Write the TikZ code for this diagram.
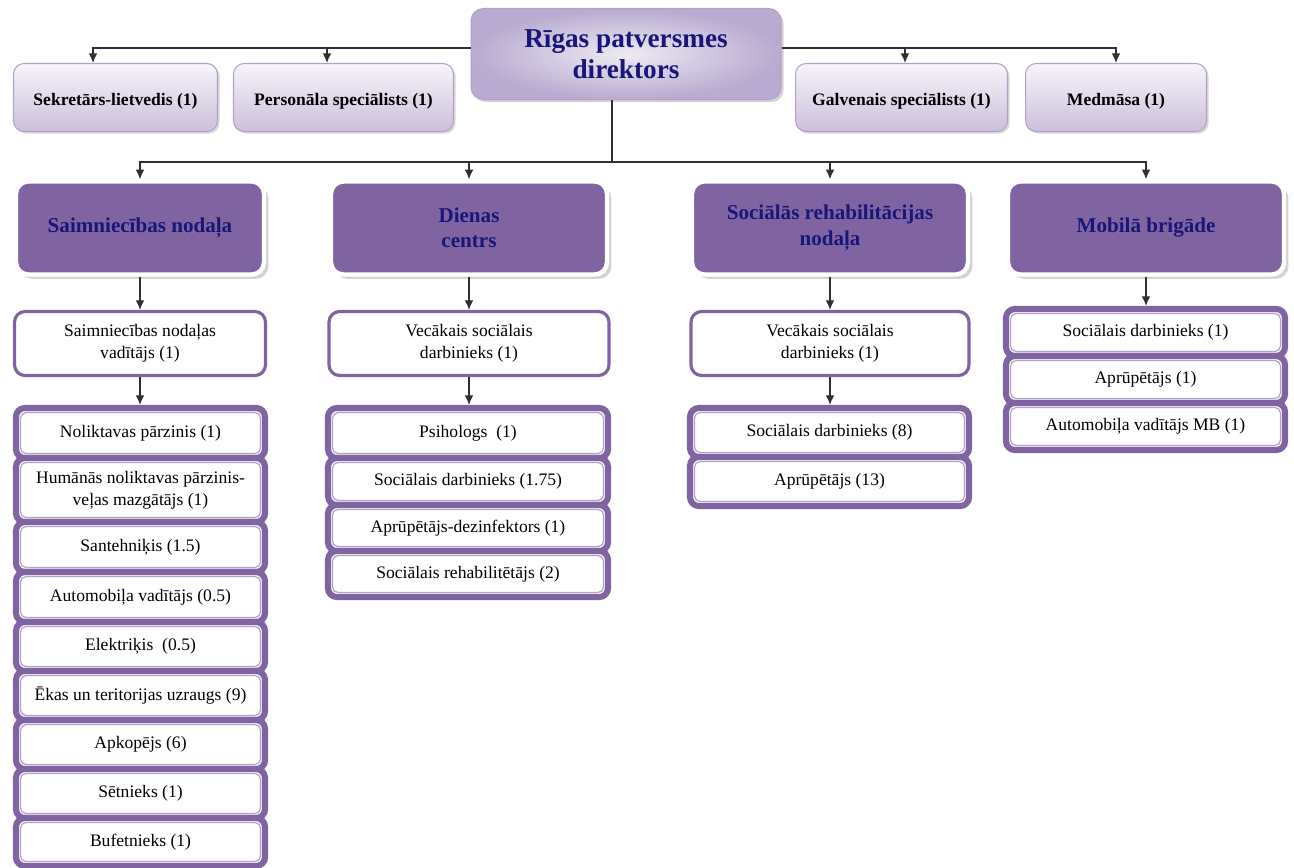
\documentclass[tikz,border=0pt]{standalone}
\usepackage{fontspec}
\setmainfont{Liberation Serif}
\usetikzlibrary{shadows,arrows.meta}

\definecolor{pur}{HTML}{8064A2}
\definecolor{lav}{HTML}{B3A2C7}
\definecolor{lavlt}{HTML}{F7F5FA}
\definecolor{lavdk}{HTML}{CBBFDA}
\definecolor{dirin}{HTML}{EEEAF4}
\definecolor{dirout}{HTML}{B8AAD0}
\definecolor{navy}{RGB}{24,22,120}
\definecolor{lnk}{HTML}{303030}

\tikzset{
  dirbox/.style={rounded corners=7pt, draw=lav, line width=0.6pt, inner color=dirin, outer color=dirout,
    text=navy, font=\fontsize{15.5}{17.5}\selectfont\bfseries, align=center,
    drop shadow={opacity=0.35, shadow xshift=1.5pt, shadow yshift=-1.5pt}},
  topbox/.style={rounded corners=6pt, draw=lav, line width=0.6pt, top color=lavlt, bottom color=lavdk,
    font=\fontsize{10}{12}\selectfont\bfseries, text depth=0pt, text height=9pt, inner ysep=1pt,
    drop shadow={opacity=0.3, shadow xshift=1.2pt, shadow yshift=-1.2pt}},
  hdrbox/.style={rounded corners=7pt, fill=pur, draw=white, line width=2.5pt, text=navy,
    font=\fontsize{12}{14.5}\selectfont\bfseries, align=center,
    drop shadow={opacity=0.35, shadow xshift=2.5pt, shadow yshift=-2.5pt}},
  leadbox/.style={rounded corners=6pt, fill=white, draw=pur, line width=1.8pt, align=center,
    font=\fontsize{10}{12.5}\selectfont},
  itembox/.style={rounded corners=5pt, fill=white, draw=pur, line width=3.5pt, align=center,
    font=\fontsize{10}{12.5}\selectfont,
    path picture={\draw[lav, line width=0.7pt, rounded corners=3pt]
      ([shift={(2.6pt,2.6pt)}]path picture bounding box.south west) rectangle
      ([shift={(-2.6pt,-2.6pt)}]path picture bounding box.north east);}},
  arr/.style={-{Latex[length=5.5pt,width=5pt]}, lnk, line width=0.8pt}
}

\begin{document}
\begin{tikzpicture}[x=0.02cm, y=-0.02cm]
  \useasboundingbox (0,0) rectangle (1294,867);

  % director and staff
  \node[dirbox, minimum width=6.2cm, minimum height=1.82cm] (dir) at (626,54) {Rīgas patversmes\\direktors};
  \node[topbox, minimum width=4.08cm, minimum height=1.36cm] (sekr) at (115.5,97.5) {Sekretārs-lietvedis (1)};
  \node[topbox, minimum width=4.4cm, minimum height=1.36cm] (pers) at (343.5,97.5) {Personāla speciālists (1)};
  \node[topbox, minimum width=4.24cm, minimum height=1.36cm] (galv) at (901.5,97.5) {Galvenais speciālists (1)};
  \node[topbox, minimum width=3.62cm, minimum height=1.36cm] (med) at (1116,97.5) {Medmāsa (1)};

  \draw[arr] ([yshift=0.12cm]dir.west) -| ([xshift=-0.45cm]sekr.north);
  \draw[arr] ([yshift=0.12cm]dir.west) -| ([xshift=-0.33cm]pers.north);
  \draw[arr] ([yshift=0.12cm]dir.east) -| ([xshift=0.07cm]galv.north);
  \draw[arr] ([yshift=0.12cm]dir.east) -| (med.north);

  % departments
  \node[hdrbox, minimum width=4.96cm, minimum height=1.86cm] (saim) at (140,228) {Saimniecības nodaļa};
  \node[hdrbox, minimum width=5.52cm, minimum height=1.86cm] (dien) at (469,228) {Dienas\\centrs};
  \node[hdrbox, minimum width=5.52cm, minimum height=1.86cm] (soc) at (830,228) {Sociālās rehabilitācijas\\nodaļa};
  \node[hdrbox, minimum width=5.52cm, minimum height=1.86cm] (mob) at (1146,228) {Mobilā brigāde};

  \coordinate (split) at (612,162);
  \draw[lnk, line width=0.8pt] (dir.south -| split) -- (split);
  \foreach \d in {saim,dien,soc,mob}
    \draw[arr] (split) -| (\d.north);

  % heads of departments
  \node[leadbox, minimum width=5.02cm, minimum height=1.28cm] (saimV) at (140,343.5) {Saimniecības nodaļas\\vadītājs (1)};
  \node[leadbox, minimum width=5.6cm, minimum height=1.28cm] (dienV) at (469,343.5) {Vecākais sociālais\\darbinieks (1)};
  \node[leadbox, minimum width=5.56cm, minimum height=1.28cm] (socV) at (830,343.5) {Vecākais sociālais\\darbinieks (1)};
  \draw[arr] (saim) -- (saimV);
  \draw[arr] (dien) -- (dienV);
  \draw[arr] (soc) -- (socV);

  % staff lists
  \foreach \nm/\txt/\yc/\hh in {s1/Noliktavas pārzinis (1)/433/1.0, s2/Humānās noliktavas pārzinis-\\veļas mazgātājs (1)/490/1.28,
      s3/Santehniķis (1.5)/547/1.0, s4/Automobiļa vadītājs (0.5)/597/1.0, s5/Elektriķis\ \ (0.5)/646.5/0.98,
      s6/Ēkas un teritorijas uzraugs (9)/695.5/0.98, s7/Apkopējs (6)/744.5/0.98, s8/Sētnieks (1)/793.5/0.98,
      s9/Bufetnieks (1)/842/0.96}
    \node[itembox, minimum width=4.98cm, minimum height=\hh cm] (\nm) at (140.5,\yc) {\txt};
  \foreach \nm/\txt/\yc/\hh in {d1/Psihologs\ \ (1)/433/1.0, d2/Sociālais darbinieks (1.75)/481.5/0.94,
      d3/Aprūpētājs-dezinfektors (1)/528/0.92, d4/Sociālais rehabilitētājs (2)/574/0.92}
    \node[itembox, minimum width=5.6cm, minimum height=\hh cm] (\nm) at (468,\yc) {\txt};
  \foreach \nm/\txt/\yc/\hh in {r1/Sociālais darbinieks (8)/432.5/0.98, r2/Aprūpētājs (13)/481.5/0.98}
    \node[itembox, minimum width=5.58cm, minimum height=\hh cm] (\nm) at (829.5,\yc) {\txt};
  \foreach \nm/\txt/\yc/\hh in {m1/Sociālais darbinieks (1)/332.5/0.94, m2/Aprūpētājs (1)/379.5/0.94,
      m3/Automobiļa vadītājs MB (1)/426.5/0.94}
    \node[itembox, minimum width=5.58cm, minimum height=\hh cm] (\nm) at (1145.5,\yc) {\txt};

  \draw[arr] (saimV.south) -- (s1.north -| saimV.south);
  \draw[arr] (dienV.south) -- (d1.north -| dienV.south);
  \draw[arr] (socV.south) -- (r1.north -| socV.south);
  \draw[arr] (mob.south) -- (m1.north -| mob.south);
\end{tikzpicture}
\end{document}
